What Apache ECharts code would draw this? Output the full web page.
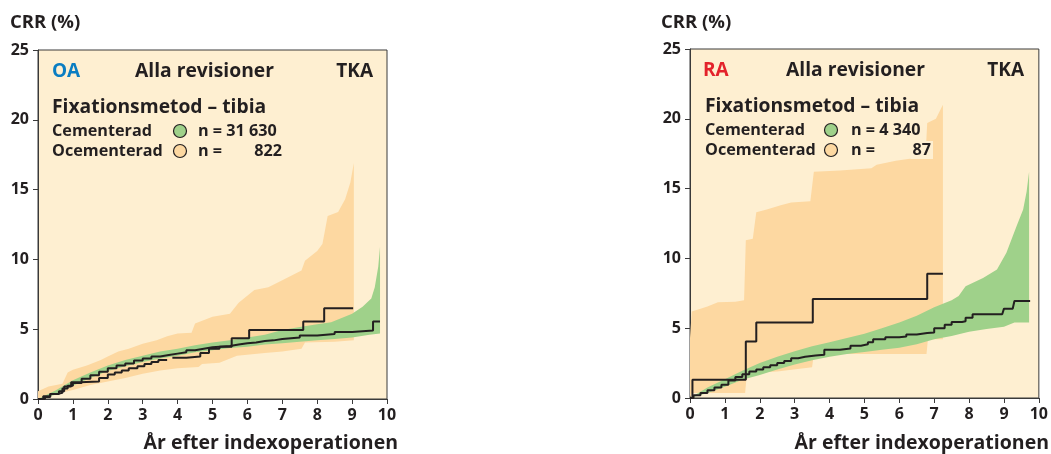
<!DOCTYPE html>
<html><head><meta charset="utf-8">
<script src="https://cdn.jsdelivr.net/npm/echarts@6/dist/echarts.min.js"></script>
<style>html,body{margin:0;padding:0;background:#fff}#c{width:1051px;height:454px}</style>
</head><body><div id="c"></div>
<script>
// ---------- data ----------
const xTickLabels = ['0','1','2','3','4','5','6','7','8','9','10'];
const yTickLabels = ['0','5','10','15','20','25'];

// OA – cemented (line + CI band)
const oaCemLine = [[0,0],[0.2,0.15],[0.35,0.35],[0.55,0.45],[0.7,0.75],[0.85,0.95],[1,1.15],[1.25,1.45],[1.5,1.7],[1.75,1.95],[2,2.2],[2.25,2.4],[2.5,2.55],[2.75,2.75],[3,2.9],[3.25,3.05],[3.5,3.15],[3.75,3.25],[4,3.35],[4.25,3.5],[4.5,3.6],[4.75,3.7],[5,3.8],[5.5,3.9],[5.75,4.0],[6,4.05],[6.25,4.15],[6.5,4.2],[6.75,4.3],[7,4.4],[7.5,4.55],[8,4.65],[8.5,4.8],[9,4.9],[9.6,5.55],[9.8,5.55]];
const oaCemUpper = [[0,0],[0.5,0.6],[1,1.35],[1.5,1.9],[2,2.4],[2.5,2.8],[3,3.1],[3.5,3.4],[4,3.6],[4.5,3.85],[5,4.05],[5.5,4.2],[6,4.4],[6.5,4.6],[7,4.95],[7.5,5.15],[8,5.35],[8.4,5.5],[8.7,5.8],[9,6.1],[9.3,6.6],[9.55,7.2],[9.65,8.0],[9.75,9.5],[9.8,10.9]];
const oaCemLower = [[0,0],[0.5,0.3],[1,0.95],[1.5,1.5],[2,2.0],[2.5,2.35],[3,2.65],[3.5,2.9],[4,3.1],[4.5,3.35],[5,3.5],[5.5,3.65],[6,3.75],[6.5,3.9],[7,4.0],[7.5,4.1],[8,4.2],[8.5,4.3],[9,4.4],[9.5,4.6],[9.8,4.7]];
// OA – uncemented
const oaOceLine = [[0,0],[0.15,0.2],[0.35,0.35],[0.6,0.55],[0.75,0.9],[0.95,1.2],[1.2,1.25],[1.75,1.5],[2,1.75],[2.2,1.9],[2.4,2.05],[2.6,2.2],[2.85,2.35],[3.05,2.5],[3.25,2.65],[3.45,2.8],[3.55,2.8],[3.7,'-'],[3.85,2.95],[4.25,3.05],[4.65,3.3],[4.9,3.6],[5.2,3.75],[5.55,4.35],[6.05,4.95],[7.6,5.55],[8.2,6.5],[9.03,6.5]];
const oaOceUpper = [[0,0.55],[0.3,0.9],[0.7,1.1],[0.85,1.9],[1,2.1],[1.4,2.4],[1.8,2.8],[2,3.05],[2.3,3.4],[2.6,3.6],[3,3.95],[3.4,4.2],[3.7,4.5],[4,4.7],[4.4,4.75],[4.5,5.4],[5,5.9],[5.5,6.1],[5.75,6.9],[6.2,7.8],[6.6,8.0],[7,8.5],[7.55,9.2],[7.65,9.9],[8,10.6],[8.15,11.1],[8.3,13.1],[8.6,13.4],[8.8,14.3],[8.95,15.5],[9.05,16.9]];
const oaOceLower = [[0,0],[0.5,0.35],[1,0.65],[1.5,1.0],[2,1.25],[2.5,1.5],[3,1.8],[3.5,2.05],[4,2.2],[4.6,2.3],[4.7,2.5],[5.2,2.6],[5.7,3.1],[6.5,3.3],[7,3.4],[7.55,3.6],[7.65,4.05],[8.5,4.1],[9.05,4.2]];

// RA – cemented
const raCemLine = [[0,0],[0.1,0.2],[0.3,0.35],[0.5,0.55],[0.7,0.75],[0.9,0.95],[1.1,1.25],[1.3,1.5],[1.5,1.7],[1.7,1.9],[1.9,2.05],[2.1,2.2],[2.3,2.35],[2.5,2.5],[2.7,2.65],[2.9,2.85],[3.1,2.95],[3.3,3.05],[3.6,3.1],[3.85,3.45],[4.3,3.55],[4.6,3.75],[4.9,3.85],[5.1,4.0],[5.25,4.2],[5.6,4.35],[6.0,4.4],[6.2,4.55],[6.5,4.65],[6.8,4.7],[7.0,5.0],[7.3,5.25],[7.5,5.45],[7.8,5.5],[7.9,5.75],[8.1,6.0],[8.95,6.0],[9.0,6.4],[9.25,6.4],[9.3,6.95],[9.75,6.95]];
const raCemUpper = [[0,0],[0.5,0.75],[1,1.35],[1.5,1.95],[2,2.5],[2.5,2.95],[3,3.35],[3.5,3.7],[4,4.0],[4.5,4.3],[5,4.6],[5.5,5.0],[6,5.4],[6.5,5.9],[7,6.5],[7.5,7.0],[7.7,7.3],[7.9,8.0],[8.4,8.6],[8.8,9.2],[9.07,10.4],[9.36,12.3],[9.55,13.5],[9.65,14.8],[9.72,16.2]];
const raCemLower = [[0,0],[0.5,0.35],[1,0.8],[1.5,1.3],[2,1.65],[2.5,2.05],[3,2.4],[3.5,2.7],[4,2.95],[4.5,3.15],[5,3.3],[5.5,3.45],[6,3.6],[6.5,3.85],[7,4.2],[7.5,4.45],[8,4.75],[8.5,4.95],[9,5.1],[9.3,5.4],[9.72,5.4]];
// RA – uncemented
const raOceLine = [[0,0],[0.07,1.3],[1.6,4.05],[1.9,5.4],[3.52,7.1],[6.8,8.9],[7.25,8.9]];
const raOceUpper = [[0,4.3],[0.05,6.2],[0.3,6.4],[0.5,6.55],[0.8,6.85],[1.3,6.9],[1.55,7.0],[1.6,11.3],[1.8,11.4],[1.9,13.3],[2.2,13.5],[2.6,13.8],[2.9,14.0],[3.45,14.1],[3.55,16.2],[4.3,16.3],[5.2,16.45],[5.35,16.7],[5.9,17.0],[6.75,17.3],[6.8,19.7],[7.05,20.0],[7.25,21.0]];
const raOceLower = [[0,0],[0.05,0.35],[1.58,0.35],[1.62,1.45],[1.9,1.8],[2.5,1.9],[3.5,2.2],[3.55,3.15],[6.78,3.15],[6.82,4.2],[7.25,4.2]];

const panels = [
  {group:'OA', groupColor:'#0a7dc2', nCem:'31 630', nOce:'822'},
  {group:'RA', groupColor:'#e3222b', nCem:'4 340', nOce:'87'}
];

// ---------- styling ----------
const BG = '#FEEFD1', ORANGE = '#FDD8A1', GREEN = '#9FD18A', INK = '#231F20';
const FONT = '"Open Sans", "Noto Sans", sans-serif';

function band(gi, upper, lower, color) {
  return {
    type:'custom', xAxisIndex:gi, yAxisIndex:gi, clip:true, silent:true,
    data:[[0,0]],
    renderItem:function(params, api){
      const pts = [];
      upper.forEach(p => pts.push(api.coord(p)));
      for (let i = lower.length - 1; i >= 0; i--) pts.push(api.coord(lower[i]));
      return {type:'polygon', shape:{points:pts}, style:{fill:color, stroke:null}};
    }
  };
}
function line(gi, d) {
  return {type:'line', xAxisIndex:gi, yAxisIndex:gi, data:d, step:'end', symbol:'none',
    connectNulls:false, lineStyle:{color:INK, width:2}, z:5, silent:true};
}

const grids = [
  {left:38, top:50, width:349, height:349},
  {left:690, top:49, width:349, height:349}
];
const xAxes = grids.map((g,i)=>({
  type:'value', gridIndex:i, min:0, max:10, interval:1,
  axisLine:{show:true, lineStyle:{color:'#3a3a3a', width:1}},
  axisTick:{show:true, length:5, lineStyle:{color:'#3a3a3a'}},
  splitLine:{show:false},
  axisLabel:{color:INK, fontFamily:FONT, fontWeight:'bold', fontSize:16, margin:8,
    formatter:(v)=>xTickLabels[Math.round(v)]}
}));
const yAxes = grids.map((g,i)=>({
  type:'value', gridIndex:i, min:0, max:25, interval:5,
  axisLine:{show:true, lineStyle:{color:'#3a3a3a', width:1}},
  axisTick:{show:true, length:5, lineStyle:{color:'#3a3a3a'}},
  splitLine:{show:false},
  axisLabel:{color:INK, fontFamily:FONT, fontWeight:'bold', fontSize:16, margin:9,
    formatter:(v)=>yTickLabels[Math.round(v/5)]}
}));

function txt(x, y, text, size, opts) {
  opts = opts || {};
  return {type:'text', x:x, y:y, z:100, silent:true, style:Object.assign({
    text:text, fill:opts.fill||INK, font:'bold '+size+'px '+FONT,
    align:opts.align||'left', verticalAlign:'middle'
  }, opts.bg ? {backgroundColor:BG, padding:[1,2,1,2]} : {})};
}

const graphics = [];
panels.forEach((p, i) => {
  const dx = i === 0 ? 0 : 651;
  const dy = i === 0 ? 0 : -1;
  graphics.push(txt(10+dx, 23, 'CRR (%)', 18.5));
  graphics.push(txt(52+dx, 72+dy, p.group, 19, {fill:p.groupColor}));
  graphics.push(txt(135+dx, 72+dy, 'Alla revisioner', 19.3));
  graphics.push(txt(373+dx, 72+dy, 'TKA', 19, {align:'right'}));
  graphics.push(txt(52+dx, 108+dy, 'Fixationsmetod – tibia', 19.3, {bg:i===1}));
  graphics.push(txt(52+dx, 131+dy, 'Cementerad', 16.2, {bg:i===1}));
  graphics.push(txt(52+dx, 151+dy, 'Ocementerad', 16.2, {bg:i===1}));
  graphics.push({type:'circle', z:100, silent:true, shape:{cx:180+dx, cy:131+dy, r:6.5}, style:{fill:GREEN, stroke:INK, lineWidth:1.2}});
  graphics.push({type:'circle', z:100, silent:true, shape:{cx:180+dx, cy:151+dy, r:6.5}, style:{fill:ORANGE, stroke:INK, lineWidth:1.2}});
  graphics.push(txt(198+dx, 131+dy, 'n = ' + p.nCem, 16.2, {bg:i===1}));
  graphics.push(txt(198+dx, 151+dy, 'n =', 16.2, {bg:i===1}));
  graphics.push(txt(282+dx, 151+dy, p.nOce, 16.2, {align:'right', bg:i===1}));
  graphics.push(txt(398+dx, 443, 'År efter indexoperationen', 19.5, {align:'right'}));
});

const series = [
  band(0, oaOceUpper, oaOceLower, ORANGE),
  band(0, oaCemUpper, oaCemLower, GREEN),
  line(0, oaOceLine),
  line(0, oaCemLine),
  band(1, raOceUpper, raOceLower, ORANGE),
  band(1, raCemUpper, raCemLower, GREEN),
  line(1, raOceLine),
  line(1, raCemLine)
];

const chart = echarts.init(document.getElementById('c'), null, {renderer:'canvas'});
chart.setOption({
  animation:false,
  backgroundColor:'#ffffff',
  grid: grids.map(g => Object.assign({show:true, backgroundColor:BG, borderColor:'#3a3a3a', borderWidth:1}, g)),
  xAxis: xAxes,
  yAxis: yAxes,
  series: series,
  graphic: graphics
});
</script>
</body></html>
